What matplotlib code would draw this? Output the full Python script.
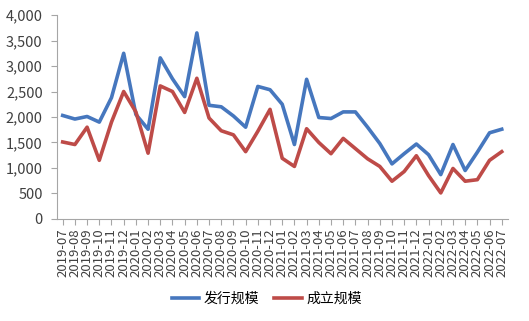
import matplotlib
matplotlib.use("Agg")
import matplotlib.pyplot as plt
from matplotlib.ticker import FuncFormatter

plt.rcParams['font.family'] = ['Noto Sans CJK SC', 'DejaVu Sans']

months = [
    "2019-07", "2019-08", "2019-09", "2019-10", "2019-11", "2019-12",
    "2020-01", "2020-02", "2020-03", "2020-04", "2020-05", "2020-06",
    "2020-07", "2020-08", "2020-09", "2020-10", "2020-11", "2020-12",
    "2021-01", "2021-02", "2021-03", "2021-04", "2021-05", "2021-06",
    "2021-07", "2021-08", "2021-09", "2021-10", "2021-11", "2021-12",
    "2022-01", "2022-02", "2022-03", "2022-04", "2022-05", "2022-06",
    "2022-07",
]
issue_scale = [
    2030, 1960, 2010, 1900, 2380, 3250,
    2050, 1760, 3160, 2750, 2400, 3650,
    2230, 2200, 2020, 1800, 2600, 2535,
    2250, 1460, 2740, 1990, 1970, 2100,
    2100, 1800, 1480, 1080, 1280, 1470,
    1260, 870, 1460, 950, 1310, 1690,
    1760,
]
setup_scale = [
    1510, 1460, 1800, 1150, 1900, 2500,
    2100, 1290, 2610, 2500, 2090, 2760,
    1980, 1730, 1650, 1320, 1720, 2150,
    1190, 1030, 1770, 1500, 1280, 1580,
    1380, 1180, 1030, 740, 930, 1240,
    850, 510, 990, 740, 770, 1150,
    1320,
]

fig = plt.figure(figsize=(5.29, 3.21), dpi=100)
ax = fig.add_axes([0.107, 0.318, 0.853, 0.635])

x = list(range(len(months)))
ax.plot(x, issue_scale, color="#4677BE", lw=2.6, label="发行规模")
ax.plot(x, setup_scale, color="#BE4B48", lw=2.6, label="成立规模")

ax.set_xlim(-0.5, len(months) - 0.5)
ax.set_ylim(0, 4000)
ax.set_yticks(range(0, 4001, 500))
ax.yaxis.set_major_formatter(FuncFormatter(lambda v, p: f"{int(v):,}"))
ax.set_xticks(x)
ax.set_xticklabels(months, rotation=90, fontsize=9.5, color="#404040")
for lab in ax.get_yticklabels():
    lab.set_fontsize(10.5)
    lab.set_color("#404040")

for s in ["top", "right"]:
    ax.spines[s].set_visible(False)
for s in ["left", "bottom"]:
    ax.spines[s].set_color("#A6A6A6")
    ax.spines[s].set_linewidth(0.8)
ax.tick_params(axis="both", direction="out", color="#A6A6A6", length=4, width=0.8)
ax.tick_params(axis="x", pad=3)
ax.tick_params(axis="y", pad=6)

fig.legend(loc="center", bbox_to_anchor=(0.504, 0.069), ncol=2, frameon=False,
           fontsize=10, handlelength=2.0, handletextpad=0.3, columnspacing=1.1)

fig.savefig("out.png", dpi=100)
